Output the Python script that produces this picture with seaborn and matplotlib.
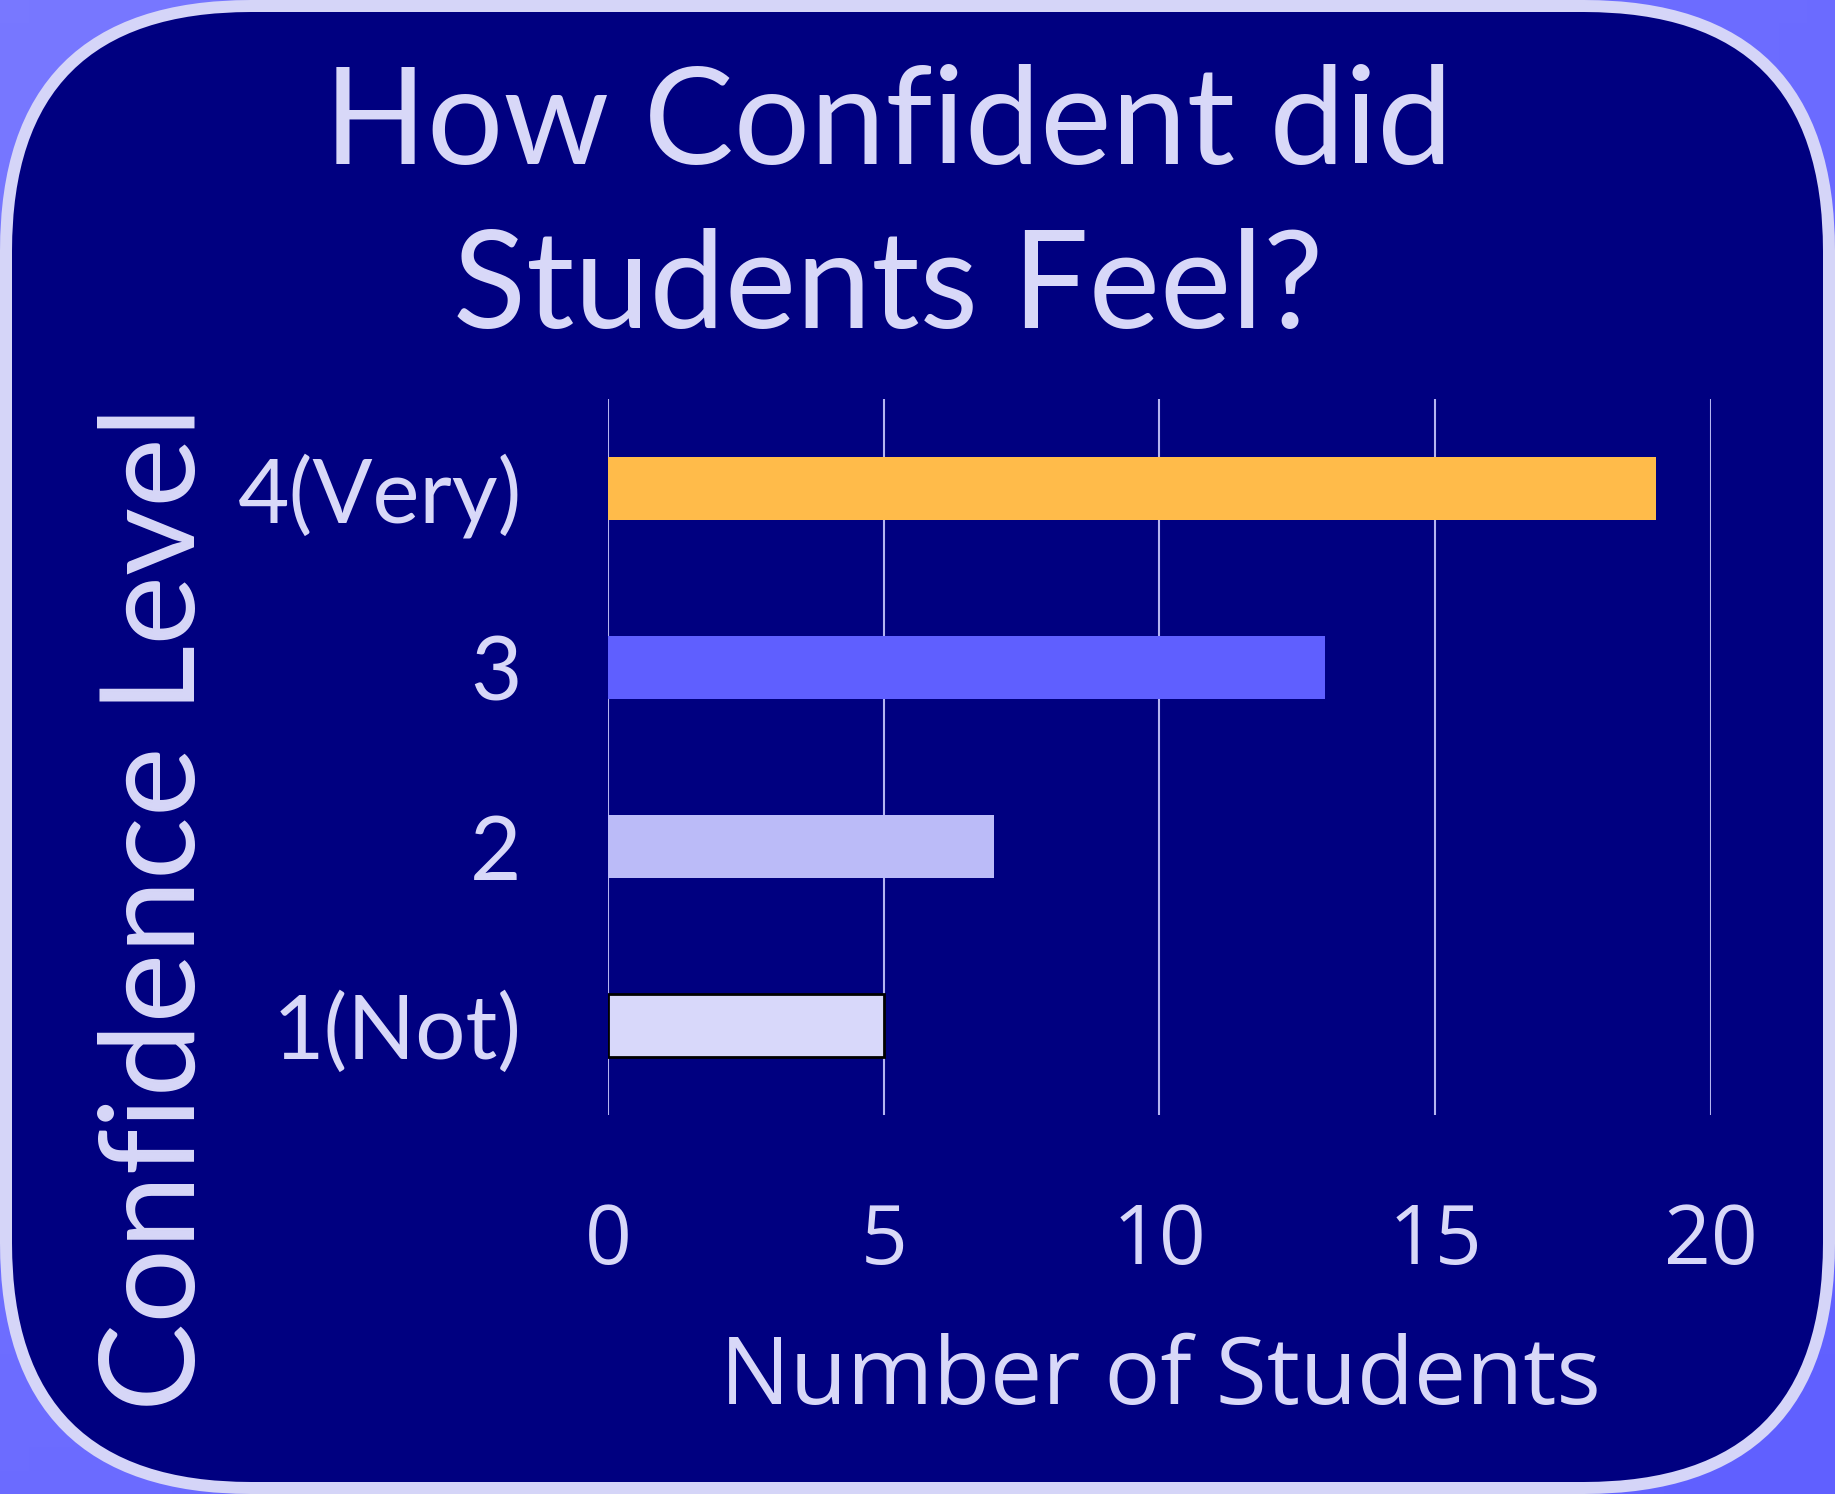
import numpy as np
import pandas as pd
import matplotlib
matplotlib.use("Agg")
import matplotlib.pyplot as plt
import seaborn as sns
from matplotlib.patches import FancyBboxPatch
from matplotlib.colors import LinearSegmentedColormap

# chart data
levels = ["4(Very)", "3", "2", "1(Not)"]
counts = [19, 13, 7, 5]
bar_colors = ["#ffbb4a", "#5f5fff", "#bbbbf8", "#d8d8fa"]
edge_colors = ["none", "none", "none", "black"]
x_ticks = [0, 5, 10, 15, 20]

TXT = "#d8d8f8"
W, H = 1835, 1494

sns.set_style("white")
plt.rcParams["font.family"] = ["Lato", "DejaVu Sans"]

fig = plt.figure(figsize=(W / 100, H / 100), dpi=100)

# gradient background + rounded navy panel
bg = fig.add_axes([0, 0, 1, 1], zorder=0)
bg.set_xlim(0, W)
bg.set_ylim(H, 0)
bg.axis("off")
grad = np.add.outer(np.linspace(0, 1, 64), np.linspace(0, 1, 64)) / 2
cmap = LinearSegmentedColormap.from_list("bg", ["#7878ff", "#6060ff"])
bg.imshow(grad, cmap=cmap, extent=[0, W, H, 0], aspect="auto")
bg.add_patch(FancyBboxPatch((6, 6), W - 12, H - 12,
                            boxstyle="round,pad=0,rounding_size=245",
                            facecolor="#000080", edgecolor="#d5d5f8",
                            linewidth=12 * 72 / 100))

# bar chart
ax = fig.add_axes([0.3313, 0.2537, 0.6011, 0.4792], zorder=1)
ax.set_facecolor("none")
df = pd.DataFrame({"level": levels, "count": counts})
sns.barplot(data=df, x="count", y="level", hue="level", orient="h",
            palette=dict(zip(levels, bar_colors)), width=0.35,
            saturation=1, linewidth=0, edgecolor="none",
            legend=False, ax=ax)
for p, ec in zip(ax.patches, edge_colors):
    if ec != "none":
        p.set_edgecolor(ec)
        p.set_linewidth(2)

ax.set_xlim(0, 20)
ax.set_ylim(3.5, -0.5)
ax.set_xticks(x_ticks)
ax.grid(axis="x", color="#b4b4f0", linewidth=1.5)
ax.grid(axis="y", visible=False)
ax.set_axisbelow(True)
for s in ax.spines.values():
    s.set_visible(False)
ax.set_xlabel("")
ax.set_ylabel("")
ax.tick_params(axis="y", length=0, pad=62, colors=TXT, labelsize=64)
ax.tick_params(axis="x", length=0, pad=62, colors=TXT, labelsize=59)
for lab in ax.get_xticklabels():
    lab.set_family(["Open Sans", "DejaVu Sans"])

# titles and axis labels
fig.text(0.484, 0.890, "How Confident did", ha="center", va="baseline",
         fontsize=97, color=TXT)
fig.text(0.484, 0.7805, "Students Feel?", ha="center", va="baseline",
         fontsize=97, color=TXT)
fig.text(0.1063, 0.392, "Confidence Level", rotation=90, rotation_mode="anchor",
         ha="center", va="baseline", fontsize=95, color=TXT)
fig.text(0.6324, 0.0602, "Number of Students", ha="center", va="baseline",
         fontsize=67, color=TXT, family=["Open Sans", "DejaVu Sans"])

fig.savefig("out.png", dpi=100)
